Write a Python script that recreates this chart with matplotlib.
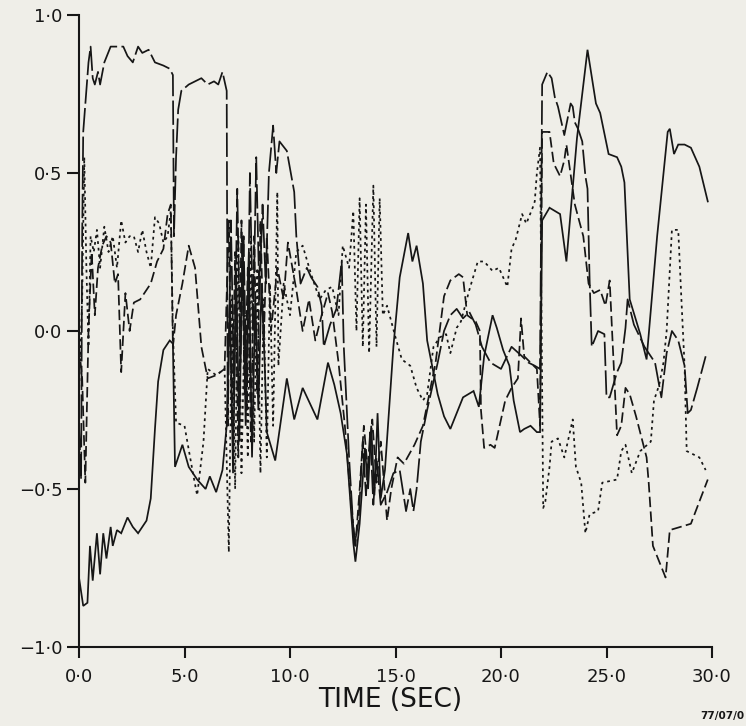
import matplotlib
matplotlib.use('Agg')
import matplotlib.pyplot as plt
from matplotlib.ticker import FuncFormatter

# time (sec), value pairs for each trace
solid_pts = [
    (0.0, -0.78), (0.2, -0.87), (0.4, -0.86), (0.52, -0.68), (0.65, -0.79), (0.85, -0.64),
    (1.0, -0.77), (1.15, -0.64), (1.3, -0.72), (1.5, -0.62), (1.6, -0.68), (1.8, -0.63),
    (2.0, -0.64), (2.3, -0.59), (2.55, -0.62), (2.8, -0.64), (3.2, -0.6), (3.4, -0.53),
    (3.6, -0.31), (3.75, -0.16), (4.0, -0.06), (4.3, -0.03), (4.45, -0.04), (4.55, -0.43),
    (4.9, -0.36), (5.2, -0.43), (5.6, -0.47), (6.0, -0.5), (6.2, -0.46), (6.5, -0.51),
    (6.8, -0.44), (7.0, -0.3), (7.15, 0.1), (7.3, -0.45), (7.45, 0.2), (7.6, -0.35),
    (7.75, 0.3), (7.9, -0.3), (8.05, 0.25), (8.2, -0.4), (8.35, 0.1), (8.5, -0.25),
    (8.65, 0.15), (8.8, -0.1), (8.9, -0.32), (9.3, -0.41), (9.85, -0.15), (10.2, -0.28),
    (10.6, -0.18), (11.3, -0.28), (11.8, -0.1), (12.1, -0.17), (12.4, -0.26), (12.7, -0.39),
    (13.0, -0.67), (13.1, -0.73), (13.3, -0.61), (13.55, -0.37), (13.7, -0.5), (13.85, -0.3),
    (14.0, -0.52), (14.15, -0.26), (14.3, -0.53), (14.5, -0.44), (14.9, -0.05), (15.2, 0.17),
    (15.6, 0.31), (15.8, 0.22), (16.0, 0.27), (16.3, 0.15), (16.5, -0.03), (17.0, -0.2),
    (17.3, -0.27), (17.6, -0.31), (17.9, -0.26), (18.2, -0.21), (18.7, -0.19), (18.95, -0.24),
    (19.2, -0.08), (19.6, 0.05), (19.8, 0.01), (20.1, -0.06), (20.4, -0.11), (20.6, -0.22),
    (20.9, -0.32), (21.1, -0.31), (21.4, -0.3), (21.7, -0.32), (21.85, -0.32), (21.95, 0.35),
    (22.3, 0.39), (22.8, 0.37), (23.1, 0.22), (23.6, 0.61), (24.1, 0.89), (24.5, 0.72),
    (24.7, 0.69), (25.1, 0.56), (25.5, 0.55), (25.7, 0.52), (25.85, 0.47), (26.1, 0.1),
    (26.6, -0.01), (26.9, -0.09), (27.4, 0.3), (27.9, 0.63), (28.0, 0.64), (28.2, 0.56),
    (28.4, 0.59), (28.7, 0.59), (29.0, 0.58), (29.4, 0.52), (29.8, 0.41),
]

long_dash_pts = [
    (0.0, -0.3), (0.1, -0.47), (0.15, 0.3), (0.2, 0.63), (0.45, 0.85), (0.55, 0.9),
    (0.65, 0.8), (0.75, 0.78), (0.9, 0.82), (1.0, 0.78), (1.2, 0.85), (1.5, 0.9),
    (1.8, 0.9), (2.1, 0.9), (2.3, 0.87), (2.55, 0.85), (2.8, 0.9), (3.0, 0.88),
    (3.3, 0.89), (3.6, 0.85), (4.0, 0.84), (4.3, 0.83), (4.45, 0.81), (4.5, 0.3),
    (4.6, 0.55), (4.7, 0.7), (4.85, 0.76), (5.2, 0.78), (5.5, 0.79), (5.8, 0.8),
    (6.1, 0.78), (6.4, 0.79), (6.6, 0.78), (6.8, 0.82), (7.0, 0.76), (7.05, -0.3),
    (7.2, 0.35), (7.35, -0.2), (7.5, 0.45), (7.65, -0.1), (7.8, 0.3), (7.95, -0.25),
    (8.1, 0.5), (8.25, 0.0), (8.4, 0.55), (8.55, 0.1), (8.7, 0.4), (8.85, 0.15),
    (9.0, 0.5), (9.2, 0.65), (9.35, 0.5), (9.5, 0.6), (9.85, 0.57), (10.2, 0.44),
    (10.3, 0.3), (10.5, 0.15), (10.8, 0.2), (11.0, 0.17), (11.3, 0.14), (11.5, 0.08),
    (11.6, -0.05), (11.9, 0.02), (12.2, 0.07), (12.45, 0.22), (12.55, -0.05), (12.8, -0.4),
    (13.05, -0.68), (13.25, -0.6), (13.45, -0.35), (13.6, -0.52), (13.8, -0.32), (13.95, -0.55),
    (14.1, -0.4), (14.3, -0.55), (14.6, -0.51), (14.9, -0.45), (15.2, -0.44), (15.5, -0.57),
    (15.7, -0.5), (15.85, -0.57), (16.0, -0.5), (16.2, -0.35), (16.5, -0.25), (17.0, -0.1),
    (17.3, 0.0), (17.6, 0.05), (17.9, 0.07), (18.2, 0.04), (18.5, 0.06), (18.8, 0.02),
    (19.1, -0.05), (19.5, -0.1), (20.0, -0.12), (20.5, -0.05), (21.0, -0.08), (21.3, -0.1),
    (21.6, -0.11), (21.85, -0.12), (21.95, 0.78), (22.2, 0.82), (22.4, 0.8), (22.55, 0.74),
    (22.7, 0.71), (23.0, 0.62), (23.3, 0.72), (23.4, 0.71), (23.5, 0.66), (23.65, 0.64),
    (23.85, 0.6), (24.0, 0.49), (24.1, 0.45), (24.2, 0.16), (24.3, -0.05), (24.6, 0.0),
    (24.9, -0.01), (25.0, -0.21), (25.15, -0.21), (25.5, -0.13), (25.7, -0.1), (25.9, 0.01),
    (26.0, 0.1), (26.3, 0.02), (26.8, -0.05), (27.3, -0.1), (27.6, -0.21), (27.85, -0.07),
    (28.1, 0.0), (28.4, -0.03), (28.7, -0.11), (28.85, -0.26), (29.0, -0.25), (29.3, -0.18),
    (29.7, -0.08),
]

dash_pts = [
    (0.0, -0.05), (0.15, -0.15), (0.3, -0.48), (0.45, 0.0), (0.6, 0.25), (0.75, 0.05),
    (0.9, 0.2), (1.1, 0.27), (1.3, 0.3), (1.5, 0.28), (1.7, 0.15), (1.85, 0.18),
    (2.0, -0.13), (2.2, 0.12), (2.4, 0.0), (2.6, 0.09), (2.9, 0.1), (3.1, 0.12),
    (3.4, 0.15), (3.7, 0.22), (4.0, 0.26), (4.2, 0.37), (4.35, 0.4), (4.45, -0.05),
    (4.6, 0.05), (4.9, 0.15), (5.2, 0.27), (5.5, 0.2), (5.8, -0.05), (6.1, -0.15),
    (6.5, -0.14), (6.9, -0.12), (7.1, 0.35), (7.25, -0.3), (7.4, 0.25), (7.55, -0.4),
    (7.7, 0.35), (7.85, -0.2), (8.0, 0.2), (8.15, -0.35), (8.3, 0.3), (8.45, -0.2),
    (8.6, 0.35), (8.75, -0.05), (8.9, 0.3), (9.1, 0.0), (9.4, 0.2), (9.7, 0.1),
    (9.9, 0.28), (10.3, 0.13), (10.6, 0.0), (10.9, 0.1), (11.2, -0.03), (11.5, 0.05),
    (11.8, 0.12), (12.0, 0.06), (12.3, -0.1), (12.6, -0.3), (12.9, -0.55), (13.1, -0.68),
    (13.3, -0.5), (13.5, -0.3), (13.7, -0.45), (13.9, -0.28), (14.1, -0.48), (14.3, -0.35),
    (14.6, -0.6), (14.8, -0.5), (15.1, -0.4), (15.4, -0.42), (15.9, -0.36), (16.3, -0.3),
    (16.6, -0.2), (16.9, -0.1), (17.3, 0.11), (17.6, 0.16), (18.0, 0.18), (18.2, 0.17),
    (18.4, 0.05), (18.8, 0.03), (19.0, 0.0), (19.05, -0.25), (19.2, -0.37), (19.5, -0.36),
    (19.7, -0.37), (20.0, -0.28), (20.2, -0.22), (20.5, -0.18), (20.8, -0.15), (20.95, 0.04),
    (21.1, -0.08), (21.4, -0.1), (21.7, -0.12), (21.85, -0.3), (21.95, 0.63), (22.3, 0.63),
    (22.5, 0.53), (22.8, 0.49), (23.0, 0.54), (23.1, 0.59), (23.5, 0.4), (23.9, 0.3),
    (24.15, 0.15), (24.4, 0.12), (24.7, 0.13), (24.95, 0.08), (25.15, 0.16), (25.3, -0.05),
    (25.5, -0.33), (25.7, -0.3), (25.9, -0.18), (26.1, -0.2), (26.4, -0.27), (26.9, -0.4),
    (27.0, -0.48), (27.2, -0.68), (27.8, -0.78), (28.0, -0.63), (28.5, -0.62), (29.0, -0.61),
    (29.4, -0.54), (29.8, -0.47),
]

dotted_pts = [
    (0.0, -0.2), (0.15, 0.1), (0.25, 0.55), (0.35, 0.2), (0.45, -0.05), (0.55, 0.3),
    (0.7, 0.25), (0.85, 0.32), (1.0, 0.2), (1.2, 0.33), (1.4, 0.25), (1.6, 0.3),
    (1.8, 0.2), (2.0, 0.35), (2.2, 0.28), (2.4, 0.3), (2.6, 0.3), (2.8, 0.25),
    (3.0, 0.32), (3.2, 0.25), (3.4, 0.2), (3.6, 0.36), (3.8, 0.34), (4.0, 0.28),
    (4.2, 0.3), (4.35, 0.38), (4.45, 0.0), (4.6, -0.29), (5.0, -0.3), (5.4, -0.45),
    (5.6, -0.52), (5.9, -0.35), (6.1, -0.12), (6.5, -0.14), (6.9, -0.12), (7.1, -0.7),
    (7.25, 0.1), (7.4, -0.5), (7.55, 0.3), (7.7, -0.45), (7.85, 0.05), (8.0, -0.4),
    (8.15, 0.3), (8.3, -0.35), (8.45, 0.2), (8.6, -0.45), (8.75, 0.1), (8.9, -0.4),
    (9.05, 0.15), (9.2, -0.3), (9.4, 0.44), (9.45, -0.11), (9.7, 0.15), (10.0, 0.05),
    (10.3, 0.25), (10.6, 0.27), (11.0, 0.18), (11.4, 0.1), (11.7, 0.13), (12.0, 0.14),
    (12.3, 0.05), (12.5, 0.27), (12.8, 0.2), (13.0, 0.38), (13.15, 0.0), (13.3, 0.42),
    (13.45, -0.05), (13.6, 0.4), (13.75, -0.07), (13.95, 0.46), (14.1, -0.05), (14.25, 0.42),
    (14.4, 0.05), (14.6, 0.08), (15.0, -0.02), (15.3, -0.09), (15.7, -0.11), (16.0, -0.18),
    (16.3, -0.22), (16.5, -0.2), (16.8, -0.05), (17.1, -0.02), (17.4, -0.01), (17.6, -0.07),
    (17.9, 0.01), (18.1, 0.03), (18.5, 0.13), (18.9, 0.22), (19.2, 0.22), (19.6, 0.19),
    (19.9, 0.2), (20.3, 0.14), (20.5, 0.26), (20.7, 0.29), (21.0, 0.37), (21.2, 0.34),
    (21.5, 0.39), (21.6, 0.41), (21.7, 0.5), (21.85, 0.58), (22.0, -0.56), (22.1, -0.54),
    (22.3, -0.43), (22.4, -0.35), (22.7, -0.34), (23.0, -0.4), (23.4, -0.28), (23.55, -0.43),
    (23.8, -0.48), (24.0, -0.64), (24.2, -0.58), (24.6, -0.57), (24.8, -0.48), (25.5, -0.47),
    (25.7, -0.38), (25.9, -0.36), (26.2, -0.45), (26.6, -0.38), (27.1, -0.35), (27.25, -0.22),
    (27.5, -0.17), (27.7, -0.1), (27.85, 0.0), (28.1, 0.32), (28.4, 0.32), (28.55, 0.1),
    (28.7, -0.11), (28.8, -0.38), (29.1, -0.39), (29.4, -0.4), (29.7, -0.44),
]

x_ticks = [0, 5, 10, 15, 20, 25, 30]
y_ticks = [-1.0, -0.5, 0.0, 0.5, 1.0]

INK = '#161616'
PAPER = '#efeee8'

plt.rcParams['font.family'] = ['DejaVu Sans']

fig = plt.figure(figsize=(7.46, 7.26), dpi=100, facecolor=PAPER)
ax = fig.add_axes([79 / 746, 79 / 726, 633 / 746, 632 / 726])
ax.set_facecolor(PAPER)

traces = [
    (solid_pts, '-', None),
    (long_dash_pts, '--', (14, 2.5)),
    (dash_pts, '--', (6, 2.5)),
    (dotted_pts, ':', (1.6, 2.2)),
]
for pts, ls, dashes in traces:
    t = [p[0] for p in pts]
    v = [p[1] for p in pts]
    line, = ax.plot(t, v, color=INK, lw=1.25, ls=ls, solid_joinstyle='miter')
    if dashes is not None:
        line.set_dashes(dashes)

ax.set_xlim(0, 30)
ax.set_ylim(-1, 1)
ax.set_xticks(x_ticks)
ax.set_yticks(y_ticks)

fmt = FuncFormatter(lambda v, _: f'{v:.1f}'.replace('.', '\u00b7').replace('-', '\u2212'))
ax.xaxis.set_major_formatter(fmt)
ax.yaxis.set_major_formatter(fmt)

for side in ('top', 'right'):
    ax.spines[side].set_visible(False)
for side in ('left', 'bottom'):
    ax.spines[side].set_linewidth(1.5)
    ax.spines[side].set_color(INK)

ax.tick_params(axis='y', direction='out', length=9, width=1.5, pad=3,
               labelsize=13, colors=INK)
ax.tick_params(axis='x', direction='out', length=8, width=1.5, pad=7,
               labelsize=13, colors=INK)

ax.set_xlabel('TIME (SEC)', fontsize=19, color=INK, va='center')
ax.xaxis.set_label_coords(0.491, -0.084)

fig.text(744 / 746, 10 / 726, '77/07/0', fontsize=7.5, fontweight='bold',
         color=INK, ha='right', va='center')

fig.savefig('out.png', dpi=100, facecolor=PAPER)
